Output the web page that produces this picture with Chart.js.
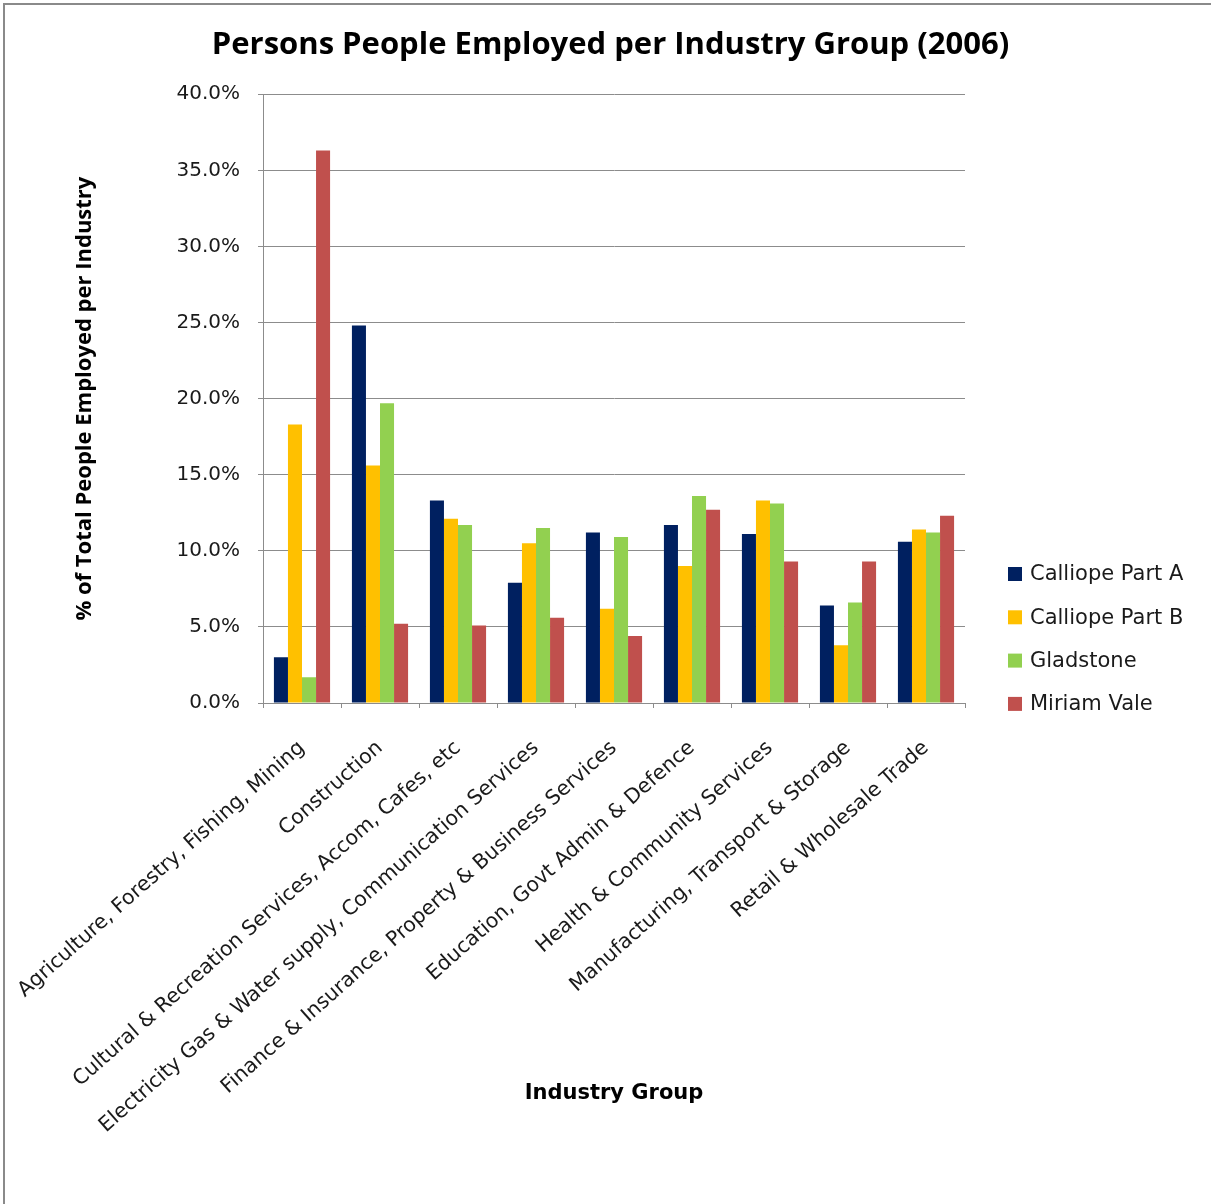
<!DOCTYPE html>
<html>
<head>
<meta charset="utf-8">
<script src="https://cdn.jsdelivr.net/npm/chart.js@4.4.0/dist/chart.umd.min.js"></script>
<style>
  html, body { margin: 0; padding: 0; background: #fff; }
  #frame { position: absolute; left: 3px; top: 3px; width: 1300px; height: 1300px;
           border-top: 2px solid #8a8a8a; border-left: 2px solid #8a8a8a; box-sizing: border-box; }
  #wrap { position: absolute; left: 0; top: 0; width: 1211px; height: 1204px; }
</style>
</head>
<body>
<div id="frame"></div>
<div id="wrap"><canvas id="c"></canvas></div>
<script>
const categories = [
  "Agriculture, Forestry, Fishing, Mining",
  "Construction",
  "Cultural & Recreation Services, Accom, Cafes, etc",
  "Electricity Gas & Water supply, Communication Services",
  "Finance & Insurance, Property & Business Services",
  "Education, Govt Admin & Defence",
  "Health & Community Services",
  "Manufacturing, Transport & Storage",
  "Retail & Wholesale Trade"
];
const seriesNames = ["Calliope Part A", "Calliope Part B", "Gladstone", "Miriam Vale"];
const calliopeA = [3.0, 24.8, 13.3, 7.9, 11.2, 11.7, 11.1, 6.4, 10.6];
const calliopeB = [18.3, 15.6, 12.1, 10.5, 6.2, 9.0, 13.3, 3.8, 11.4];
const gladstone = [1.7, 19.7, 11.7, 11.5, 10.9, 13.6, 13.1, 6.6, 11.2];
const miriamVale = [36.3, 5.2, 5.1, 5.6, 4.4, 12.7, 9.3, 9.3, 12.3];
const yTicks = [0, 5, 10, 15, 20, 25, 30, 35, 40];

const colors = ["#002060", "#FFC000", "#92D050", "#C0504D"];
const SANS = "'Open Sans', 'Noto Sans', sans-serif";
const WIDE = "'DejaVu Sans', 'Open Sans', sans-serif";

const customLegend = {
  id: 'customLegend',
  afterDraw(chart) {
    const ctx = chart.ctx;
    ctx.save();
    ctx.font = "21px " + WIDE;
    ctx.textBaseline = 'middle';
    ctx.textAlign = 'left';
    const x0 = chart.chartArea.right + 43;
    const yStart = 574, step = 43.3;
    chart.data.datasets.forEach((ds, i) => {
      const y = yStart + i * step;
      ctx.fillStyle = ds.backgroundColor;
      ctx.fillRect(x0, y - 7, 14, 14);
      ctx.fillStyle = '#1a1a1a';
      ctx.fillText(ds.label, x0 + 22, y + 1);
    });
    ctx.restore();
  }
};

new Chart(document.getElementById('c'), {
  type: 'bar',
  data: {
    labels: categories,
    datasets: [
      { label: seriesNames[0], data: calliopeA, backgroundColor: colors[0] },
      { label: seriesNames[1], data: calliopeB, backgroundColor: colors[1] },
      { label: seriesNames[2], data: gladstone, backgroundColor: colors[2] },
      { label: seriesNames[3], data: miriamVale, backgroundColor: colors[3] }
    ]
  },
  options: {
    responsive: true,
    maintainAspectRatio: false,
    animation: false,
    layout: { padding: { left: 10, right: 0, top: 10, bottom: 5 } },
    datasets: { bar: { categoryPercentage: 0.72, barPercentage: 1.0, borderWidth: 0 } },
    plugins: {
      legend: { display: false },
      tooltip: { enabled: false },
      title: {
        display: true,
        text: 'Persons People Employed per Industry Group (2006)',
        color: '#000',
        font: { family: SANS, size: 31, weight: 'bold' },
        padding: { top: 17, bottom: 30 }
      }
    },
    scales: {
      y: {
        min: 0, max: 40,
        afterBuildTicks(scale) { scale.ticks = yTicks.map(v => ({ value: v })); },
        afterFit(scale) { scale.width = 253; },
        border: { display: true, color: '#8c8c8c', width: 1 },
        grid: { color: '#8c8c8c', lineWidth: 1, tickLength: 5, drawTicks: true },
        ticks: {
          color: '#1a1a1a',
          padding: 18,
          font: { family: WIDE, size: 20 },
          callback: v => v.toFixed(1) + '%'
        },
        title: {
          display: true,
          text: '% of Total People Employed per Industry',
          color: '#000',
          font: { family: SANS, size: 22, weight: 'bold' },
          padding: { top: 62, bottom: 0 }
        }
      },
      legendSpace: {
        type: 'linear',
        position: 'right',
        display: true,
        afterFit(scale) { scale.width = 246; },
        grid: { display: false, drawOnChartArea: false },
        border: { display: false },
        ticks: { display: false }
      },
      x: {
        afterFit(scale) { scale.height = 496; scale.paddingLeft = 0; scale.paddingRight = 0; },
        border: { display: true, color: '#8c8c8c', width: 1 },
        grid: { display: true, drawOnChartArea: false, offset: true, color: '#8c8c8c', tickLength: 5 },
        ticks: {
          color: '#1a1a1a',
          autoSkip: false,
          minRotation: 41.5, maxRotation: 41.5,
          padding: 28,
          font: { family: WIDE, size: 20.5 }
        },
        title: {
          display: true,
          text: 'Industry Group',
          color: '#000',
          font: { family: WIDE, size: 21, weight: 'bold' },
          padding: { top: 0, bottom: 93 }
        }
      }
    }
  },
  plugins: [customLegend]
});
</script>
</body>
</html>
